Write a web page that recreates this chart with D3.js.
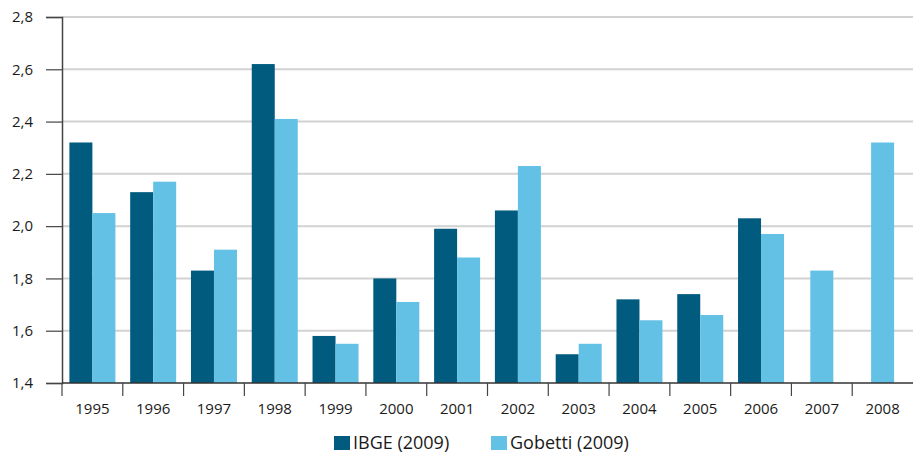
<!DOCTYPE html>
<html>
<head>
<meta charset="utf-8">
<script src="https://cdn.jsdelivr.net/npm/d3@7"></script>
<style>
  body { margin: 0; background: #fff; }
  text { font-family: "Open Sans", "Noto Sans", sans-serif; fill: #1a1a1a; }
</style>
</head>
<body>
<div id="chart"></div>
<script>
// data
var years = ["1995","1996","1997","1998","1999","2000","2001","2002","2003","2004","2005","2006","2007","2008"];
var ibge = [2.32, 2.13, 1.83, 2.62, 1.58, 1.80, 1.99, 2.06, 1.51, 1.72, 1.74, 2.03, null, null];
var gobetti = [2.05, 2.17, 1.91, 2.41, 1.55, 1.71, 1.88, 2.23, 1.55, 1.64, 1.66, 1.97, 1.83, 2.32];
var seriesNames = ["IBGE (2009)", "Gobetti (2009)"];
var colors = ["#005b7f", "#64c1e6"];
var yTicks = [1.4, 1.6, 1.8, 2.0, 2.2, 2.4, 2.6, 2.8];

var W = 913, H = 455;
var margin = {top: 17, right: 0, bottom: 72, left: 62};
var width = W - margin.left - margin.right,
    height = H - margin.top - margin.bottom;

var svg = d3.select("#chart").append("svg")
    .attr("width", W)
    .attr("height", H);

var g = svg.append("g")
    .attr("transform", "translate(" + margin.left + "," + margin.top + ")");

var x = d3.scaleBand().domain(years).range([0, width]);
var y = d3.scaleLinear().domain([1.4, 2.8]).range([height, 0]);
var barW = 23;
var fmt = function(d) { return d3.format(".1f")(d).replace(".", ","); };

// gridlines
g.selectAll(".grid")
  .data(yTicks.slice(1))
  .enter().append("line")
    .attr("x1", 0).attr("x2", width)
    .attr("y1", function(d) { return y(d); })
    .attr("y2", function(d) { return y(d); })
    .attr("stroke", "#d2d2d2")
    .attr("stroke-width", 2);

// bars
var rows = years.map(function(yr, i) { return {year: yr, vals: [ibge[i], gobetti[i]]}; });
rows.forEach(function(r) {
  var present = r.vals.map(function(v, k) { return {v: v, k: k}; })
    .filter(function(o) { return o.v != null; });
  var groupW = present.length * barW;
  var x0 = x(r.year) + (x.bandwidth() - groupW) / 2;
  g.selectAll(null)
    .data(present)
    .enter().append("rect")
      .attr("x", function(o, j) { return x0 + j * barW; })
      .attr("y", function(o) { return y(o.v); })
      .attr("width", barW)
      .attr("height", function(o) { return height - y(o.v); })
      .attr("fill", function(o) { return colors[o.k]; });
});

// y axis
var yAxis = g.append("g")
  .call(d3.axisLeft(y).tickValues(yTicks).tickFormat(fmt).tickSize(16).tickPadding(13));
yAxis.select(".domain").attr("stroke", "#444").attr("stroke-width", 1.5);
yAxis.selectAll(".tick line").attr("stroke", "#444").attr("stroke-width", 1.2);
yAxis.selectAll("text").attr("font-size", 15).attr("fill", "#1a1a1a");

// x axis
var xa = g.append("g").attr("transform", "translate(0," + height + ")");
xa.append("line")
  .attr("x1", 0).attr("x2", width)
  .attr("stroke", "#333").attr("stroke-width", 1.5);
xa.selectAll(".xt")
  .data(years)
  .enter().append("line")
    .attr("x1", function(d) { return x(d); })
    .attr("x2", function(d) { return x(d); })
    .attr("y1", 0).attr("y2", 13)
    .attr("stroke", "#444").attr("stroke-width", 1.2);
xa.selectAll(".xl")
  .data(years)
  .enter().append("text")
    .attr("x", function(d) { return x(d) + x.bandwidth() / 2; })
    .attr("y", 31)
    .attr("text-anchor", "middle")
    .attr("font-size", 15)
    .text(function(d) { return d; });

// legend
var legX = [334, 491];
var leg = svg.selectAll(".leg")
  .data(seriesNames)
  .enter().append("g")
    .attr("transform", function(d, i) { return "translate(" + legX[i] + ",436)"; });
leg.append("rect")
  .attr("width", 16).attr("height", 14)
  .attr("fill", function(d, i) { return colors[i]; });
leg.append("text")
  .attr("x", 19).attr("y", 13)
  .attr("font-size", 18)
  .text(function(d) { return d; });
</script>
</body>
</html>
